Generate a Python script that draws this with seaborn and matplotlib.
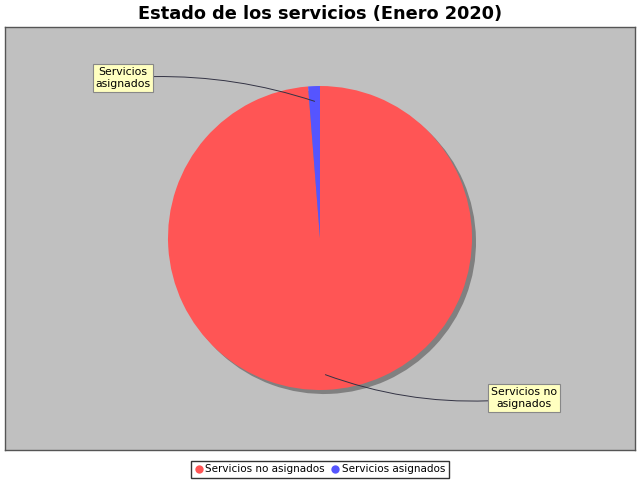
import numpy as np
import matplotlib
matplotlib.use("Agg")
import matplotlib.pyplot as plt
import seaborn as sns
from matplotlib.lines import Line2D

# Datos
categorias = ["Servicios no asignados", "Servicios asignados"]
valores = [79, 1]
colores = ["#FF5555", "#5555FF"]
titulo = "Estado de los servicios (Enero 2020)"

sns.set_style("white")
plt.rcParams["font.family"] = ["DejaVu Sans"]
plt.rcParams["text.color"] = "black"

fig = plt.figure(figsize=(6.4, 4.8), dpi=100)
fig.patch.set_facecolor("white")

# area del grafico en pixeles
ax = fig.add_axes([5 / 640, 30 / 480, 630 / 640, 423 / 480])
ax.set_facecolor("#C0C0C0")
for s in ax.spines.values():
    s.set_color("#555555")
    s.set_linewidth(1)

cx, cy, r = 320, 242, 152

# sombra
ax.pie(valores, center=(cx + 4, cy - 4), radius=r, colors=["#808080"] * 2,
       startangle=90, counterclock=False, frame=True, wedgeprops=dict(linewidth=0))
wedges, _ = ax.pie(valores, center=(cx, cy), radius=r, colors=colores,
                   startangle=90, counterclock=False, frame=True,
                   wedgeprops=dict(linewidth=0))

ax.set_xlim(5, 635)
ax.set_ylim(30, 453)
ax.set_aspect("equal")
ax.set_xticks([])
ax.set_yticks([])

# etiquetas
etiquetas = ["Servicios no\nasignados", "Servicios\nasignados"]
pos_texto = [(524, 82), (123, 402)]
rads = [-0.12, -0.1]
for w, lab, pt, rad in zip(wedges, etiquetas, pos_texto, rads):
    ang = np.deg2rad((w.theta1 + w.theta2) / 2)
    ax_pt = (cx + 0.9 * r * np.cos(ang), cy + 0.9 * r * np.sin(ang))
    ax.annotate(lab, xy=ax_pt, xytext=pt, ha="center", va="center",
                fontsize=7.8, multialignment="center", color="black",
                bbox=dict(boxstyle="square,pad=0.25", fc="#FFFFC0", ec="#888888", lw=0.8),
                arrowprops=dict(arrowstyle="-", color="#333344", lw=0.7,
                                connectionstyle=f"arc3,rad={rad}", shrinkA=0, shrinkB=0))

fig.text(0.5, 1 - 14 / 480, titulo, ha="center", va="center",
         fontsize=12.8, fontweight="bold", color="black")

handles = [Line2D([0], [0], marker="o", color="none", markerfacecolor=c,
                  markeredgecolor="none", markersize=6) for c in colores]
leg = fig.legend(handles, categorias, loc="lower center", bbox_to_anchor=(0.5, 2 / 480),
                 ncol=2, fontsize=7.5, frameon=True, fancybox=False,
                 handlelength=0.8, handletextpad=0.2, columnspacing=0.6,
                 borderpad=0.35, borderaxespad=0)
leg.get_frame().set_edgecolor("black")
leg.get_frame().set_linewidth(1)
for t in leg.get_texts():
    t.set_color("black")

fig.savefig("out.png", dpi=100)
